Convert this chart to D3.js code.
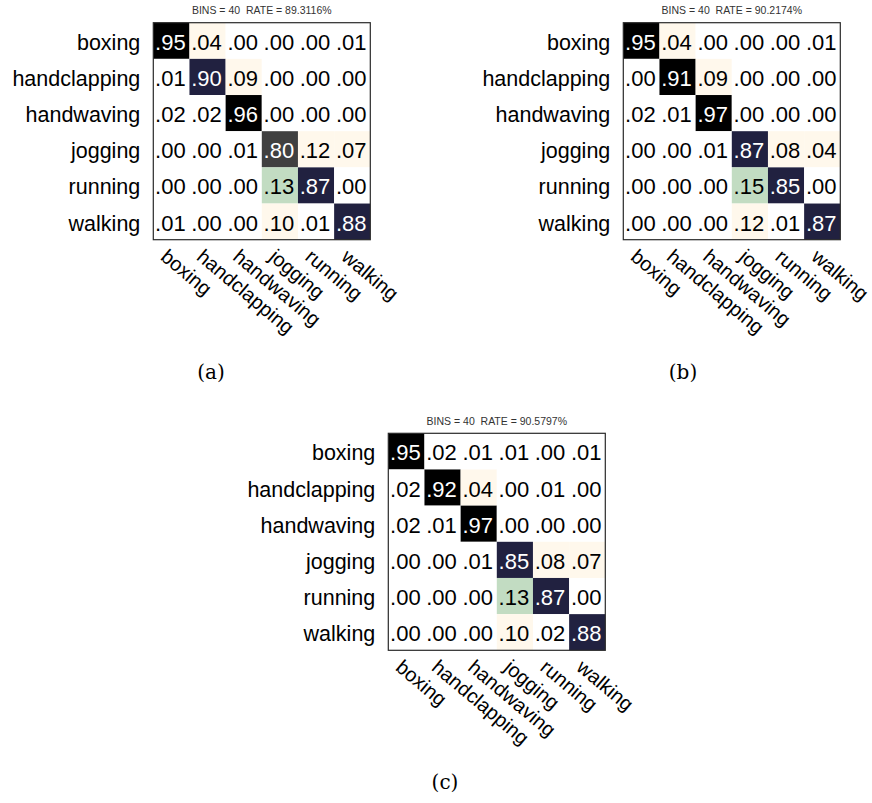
<!DOCTYPE html>
<html>
<head>
<meta charset="utf-8">
<script src="https://cdn.jsdelivr.net/npm/d3@7"></script>
<style>
  html, body { margin: 0; padding: 0; background: #ffffff; }
  svg { display: block; }
</style>
</head>
<body>
<svg id="fig" width="872" height="803"></svg>
<script>
// Action classes (rows = true class, columns = predicted class)
const classes = ["boxing", "handclapping", "handwaving", "jogging", "running", "walking"];

// Confusion matrices for the three runs
const matrixA = [
  [0.95, 0.04, 0.00, 0.00, 0.00, 0.01],
  [0.01, 0.90, 0.09, 0.00, 0.00, 0.00],
  [0.02, 0.02, 0.96, 0.00, 0.00, 0.00],
  [0.00, 0.00, 0.01, 0.80, 0.12, 0.07],
  [0.00, 0.00, 0.00, 0.13, 0.87, 0.00],
  [0.01, 0.00, 0.00, 0.10, 0.01, 0.88]
];
const matrixB = [
  [0.95, 0.04, 0.00, 0.00, 0.00, 0.01],
  [0.00, 0.91, 0.09, 0.00, 0.00, 0.00],
  [0.02, 0.01, 0.97, 0.00, 0.00, 0.00],
  [0.00, 0.00, 0.01, 0.87, 0.08, 0.04],
  [0.00, 0.00, 0.00, 0.15, 0.85, 0.00],
  [0.00, 0.00, 0.00, 0.12, 0.01, 0.87]
];
const matrixC = [
  [0.95, 0.02, 0.01, 0.01, 0.00, 0.01],
  [0.02, 0.92, 0.04, 0.00, 0.01, 0.00],
  [0.02, 0.01, 0.97, 0.00, 0.00, 0.00],
  [0.00, 0.00, 0.01, 0.85, 0.08, 0.07],
  [0.00, 0.00, 0.00, 0.13, 0.87, 0.00],
  [0.00, 0.00, 0.00, 0.10, 0.02, 0.88]
];

const bins = [40, 40, 40];
const rates = ["89.3116", "90.2174", "90.5797"];
const captions = ["(a)", "(b)", "(c)"];

// Panel placement (matrix box top-left) and caption anchors
const panels = [
  { m: matrixA, left: 153.3, top: 22.7, capX: 211, capY: 379 },
  { m: matrixB, left: 623.3, top: 22.7, capX: 683, capY: 379 },
  { m: matrixC, left: 388.3, top: 433.3, capX: 445, capY: 789 }
];
const boxSize = 217;

// Discrete colour classes for cell shading
const color = d3.scaleThreshold()
  .domain([0.035, 0.125, 0.5, 0.84, 0.905])
  .range(["#ffffff", "#fff8ec", "#c2dcc2", "#404040", "#212140", "#000000"]);

const fmt = v => d3.format(".2f")(v).replace(/^0/, "");

const svg = d3.select("#fig");
const SANS = "'Liberation Sans', Arial, sans-serif";

panels.forEach((p, i) => {
  const g = svg.append("g").attr("transform", `translate(${p.left},${p.top})`);

  const x = d3.scaleBand().domain(classes).range([0, boxSize]);
  const y = d3.scaleBand().domain(classes).range([0, boxSize]);

  const cells = [];
  p.m.forEach((row, r) => row.forEach((v, c) => cells.push({ r: classes[r], c: classes[c], v })));

  g.selectAll("rect.cell")
    .data(cells)
    .join("rect")
    .attr("class", "cell")
    .attr("x", d => x(d.c))
    .attr("y", d => y(d.r))
    .attr("width", x.bandwidth())
    .attr("height", y.bandwidth())
    .attr("fill", d => color(d.v));

  g.selectAll("text.val")
    .data(cells)
    .join("text")
    .attr("class", "val")
    .attr("x", d => x(d.c) + x.bandwidth() / 2 - 1)
    .attr("y", d => y(d.r) + y.bandwidth() / 2 + 9)
    .attr("text-anchor", "middle")
    .attr("font-family", SANS)
    .attr("font-size", 22)
    .attr("fill", d => d.v >= 0.5 ? "#ffffff" : "#000000")
    .text(d => fmt(d.v));

  // Outer frame
  g.append("rect")
    .attr("width", boxSize)
    .attr("height", boxSize)
    .attr("fill", "none")
    .attr("stroke", "#2a2a2a")
    .attr("stroke-width", 1.2);

  // Row labels
  g.selectAll("text.rowlab")
    .data(classes)
    .join("text")
    .attr("class", "rowlab")
    .attr("x", -13)
    .attr("y", d => y(d) + y.bandwidth() / 2 + 9)
    .attr("text-anchor", "end")
    .attr("font-family", SANS)
    .attr("font-size", 21.5)
    .attr("fill", "#000")
    .text(d => d);

  // Rotated column labels
  g.selectAll("text.collab")
    .data(classes)
    .join("text")
    .attr("class", "collab")
    .attr("transform", d => `translate(${x(d) + x.bandwidth() / 2 - 12},${boxSize + 19}) rotate(40)`)
    .attr("text-anchor", "start")
    .attr("font-family", SANS)
    .attr("font-size", 20)
    .attr("fill", "#000")
    .text(d => d);

  // Title
  g.append("text")
    .attr("x", boxSize / 2)
    .attr("y", -8.5)
    .attr("text-anchor", "middle")
    .attr("font-family", SANS)
    .attr("font-size", 10.5)
    .attr("fill", "#333")
    .attr("xml:space", "preserve")
    .text(`BINS = ${bins[i]}  RATE = ${rates[i]}%`);

  // Sub-figure caption
  svg.append("text")
    .attr("x", p.capX)
    .attr("y", p.capY)
    .attr("text-anchor", "middle")
    .attr("font-family", "'DejaVu Serif', 'Liberation Serif', serif")
    .attr("font-size", 20)
    .attr("fill", "#000")
    .text(captions[i]);
});
</script>
</body>
</html>
